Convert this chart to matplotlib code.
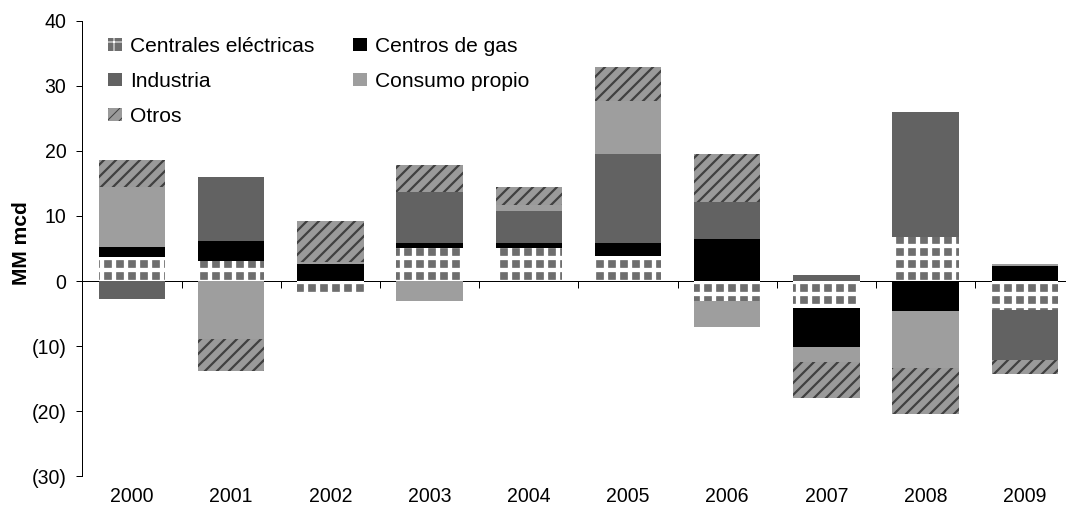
import matplotlib
matplotlib.use("Agg")
import matplotlib.pyplot as plt
from matplotlib.ticker import FuncFormatter
import numpy as np

years = ["2000", "2001", "2002", "2003", "2004", "2005", "2006", "2007", "2008", "2009"]

centrales = [3.7, 3.1, -1.8, 5.0, 5.0, 3.8, -3.1, -4.1, 6.8, -4.4]
gas = [1.6, 3.1, 2.6, 0.9, 0.9, 2.1, 6.4, -6.0, -4.6, 2.3]
industria = [-2.8, 9.7, 0.0, 7.7, 4.8, 13.6, 5.8, 0.9, 19.1, -7.7]
consumo = [9.1, -8.9, 0.3, -3.0, 1.0, 8.2, -3.9, -2.3, -8.8, 0.3]
otros = [4.2, -4.9, 6.3, 4.2, 2.8, 5.1, 7.3, -5.6, -7.0, -2.2]

series = [
    ("Centrales eléctricas", centrales),
    ("Centros de gas", gas),
    ("Industria", industria),
    ("Consumo propio", consumo),
    ("Otros", otros),
]

# face, hatch colour, hatch, hatch linewidth
styles = {
    "Centrales eléctricas": ("#6e6e6e", "white", "+", 4.3),
    "Centros de gas": ("black", "black", None, 1.0),
    "Industria": ("#626262", "#626262", None, 1.0),
    "Consumo propio": ("#9e9e9e", "#9e9e9e", None, 1.0),
    "Otros": ("#9a9a9a", "#404040", "//", 2.2),
}

plt.rcParams["font.family"] = ["Liberation Sans", "DejaVu Sans"]
plt.rcParams["font.size"] = 19.5

fig = plt.figure(figsize=(1066 / 72, 509 / 72), dpi=72)
ax = fig.add_axes([0.0773, 0.0639, 0.9306, 0.8958])

x = np.arange(len(years))
pos_bottom = np.zeros(len(years))
neg_bottom = np.zeros(len(years))
handles = {}
for name, vals in series:
    vals = np.array(vals)
    bottom = np.where(vals >= 0, pos_bottom, neg_bottom)
    face, hcol, hatch, hlw = styles[name]
    bars = ax.bar(x, vals, 0.67, bottom=bottom, color=face, edgecolor=hcol,
                  linewidth=0, hatch=hatch, label=name, zorder=2)
    for b in bars:
        if hasattr(b, "set_hatch_linewidth"):
            b.set_hatch_linewidth(hlw)
    handles[name] = bars
    pos_bottom = pos_bottom + np.where(vals > 0, vals, 0)
    neg_bottom = neg_bottom + np.where(vals < 0, vals, 0)

ax.set_xlim(-0.5, len(years) - 0.5)
ax.set_ylim(-30, 40)
ax.set_yticks(range(-30, 41, 10))
ax.yaxis.set_major_formatter(FuncFormatter(lambda v, p: f"({abs(v):.0f})" if v < 0 else f"{v:.0f}"))
ax.tick_params(axis="y", length=6, width=1, pad=10, direction="out")

ax.set_xticks(x)
ax.set_xticklabels(years)
ax.tick_params(axis="x", length=0, pad=11)

for s in ["top", "right", "bottom"]:
    ax.spines[s].set_visible(False)
ax.spines["left"].set_linewidth(1)

# zero line with ticks between categories
sec = ax.secondary_xaxis(0, transform=ax.transData)
sec.set_xticks(x[:-1] + 0.5)
sec.set_xticklabels([])
sec.tick_params(length=7, width=1, direction="out")
sec.spines["bottom"].set_linewidth(1)

ax.set_ylabel("MM mcd", fontsize=21, fontweight="bold")
ax.yaxis.set_label_coords(-0.052, 0.512)

order = ["Centrales eléctricas", "Industria", "Otros", "Centros de gas", "Consumo propio"]
ax.legend([handles[n] for n in order], order, ncol=2, frameon=False,
          loc="upper left", bbox_to_anchor=(108 / 1066, 1 - 37 / 509),
          bbox_transform=fig.transFigure, borderpad=0, borderaxespad=0,
          handlelength=0.67, handleheight=0.6, handletextpad=0.4,
          labelspacing=0.76, columnspacing=1.8, fontsize=21)

fig.savefig("out.png", dpi=72)
